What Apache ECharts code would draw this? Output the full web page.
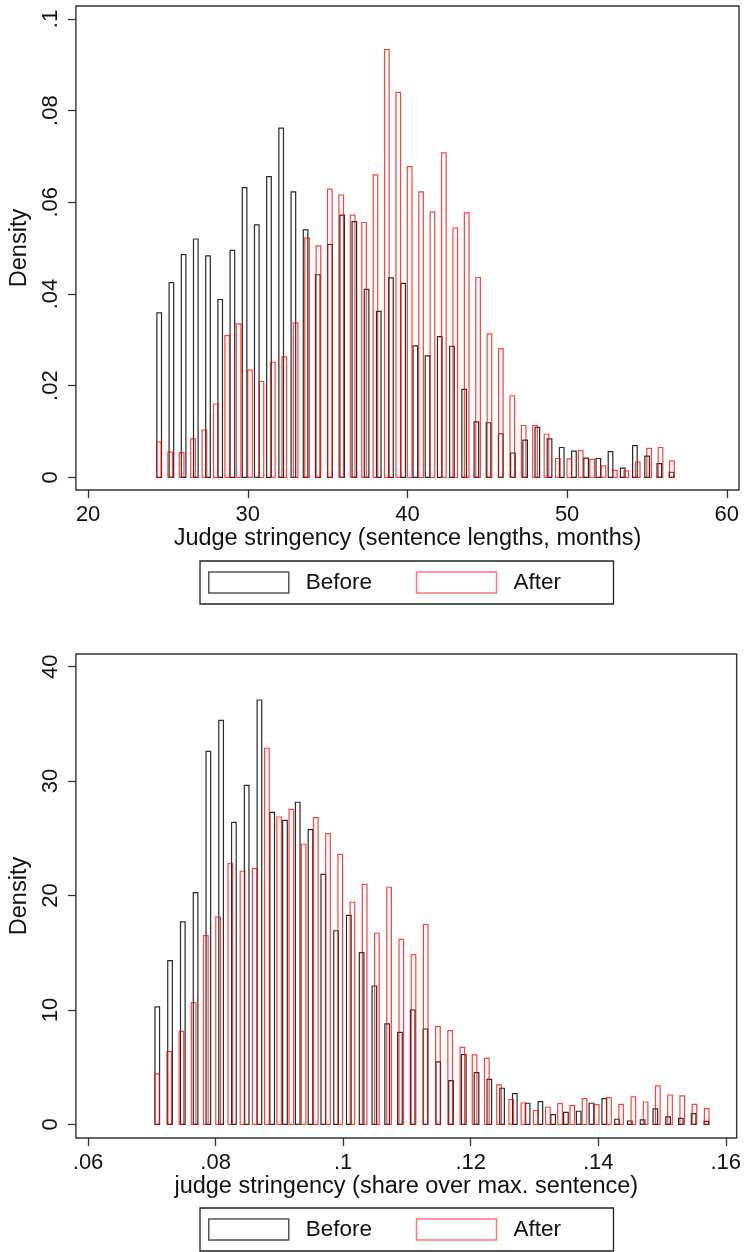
<!DOCTYPE html>
<html>
<head>
<meta charset="utf-8">
<script src="https://cdn.jsdelivr.net/npm/echarts@6/dist/echarts.min.js"></script>
<style>
  html, body { margin: 0; padding: 0; background: #fff; }
  #main { width: 744px; height: 1252px; }
</style>
</head>
<body>
<div id="main"></div>
<script>
// Density per bin, Before / After, sentence-length stringency (months)
const lengthBefore = [0.0359, 0.0425, 0.0486, 0.0520, 0.0483, 0.0388, 0.0495, 0.0632, 0.0551, 0.0656,
  0.0762, 0.0623, 0.0540, 0.0442, 0.0508, 0.0572, 0.0558, 0.0410, 0.0362, 0.0435,
  0.0423, 0.0287, 0.0265, 0.0307, 0.0286, 0.0192, 0.0121, 0.0119, 0.0095, 0.0053,
  0.0081, 0.0109, 0.0084, 0.0065, 0.0057, 0.0042, 0.0041, 0.0056, 0.0020, 0.0069,
  0.0046, 0.0030, 0.0011];
const lengthAfter = [0.0077, 0.0055, 0.0054, 0.0084, 0.0103, 0.0160, 0.0309, 0.0335, 0.0234, 0.0209,
  0.0251, 0.0263, 0.0337, 0.0522, 0.0505, 0.0629, 0.0616, 0.0572, 0.0556, 0.0660,
  0.0933, 0.0840, 0.0678, 0.0623, 0.0579, 0.0708, 0.0544, 0.0577, 0.0436, 0.0313,
  0.0281, 0.0178, 0.0113, 0.0113, 0.0094, 0.0041, 0.0040, 0.0058, 0.0039, 0.0025,
  0.0015, 0.0014, 0.0033, 0.0063, 0.0065, 0.0036];
const lengthRange = [24.07, 56.92];   // histogram start / end (months)

// Density per bin, Before / After, share over maximum sentence
const shareBefore = [10.26, 14.31, 17.69, 20.25, 32.60, 35.31, 26.40, 29.63, 37.09, 27.27,
  26.57, 28.15, 25.76, 21.85, 16.92, 18.27, 15.01, 12.09, 8.77, 8.04,
  9.99, 8.33, 5.45, 3.82, 6.09, 4.52, 3.93, 3.15, 2.68, 1.84,
  1.98, 0.85, 1.05, 1.14, 1.84, 2.24, 0.44, 0.29, 0.38, 1.34,
  0.64, 0.52, 0.93, 0.26];
const shareAfter = [4.40, 6.35, 8.13, 10.64, 16.49, 18.12, 22.79, 22.12, 22.35, 32.87,
  26.86, 27.53, 24.48, 26.81, 25.41, 23.60, 19.41, 20.98, 16.70, 20.72,
  16.17, 14.83, 17.45, 8.54, 8.19, 6.73, 6.06, 5.77, 3.44, 2.16,
  1.86, 1.19, 1.49, 1.81, 1.63, 2.24, 1.72, 2.33, 1.75, 2.39,
  1.95, 3.35, 2.56, 2.48, 1.75, 1.37];
const shareRange = [0.06985, 0.15796];

// Tick labels
const lengthTicksX = [20, 30, 40, 50, 60];
const lengthTicksY = [0, 0.02, 0.04, 0.06, 0.08, 0.1];
const shareTicksX = [0.06, 0.08, 0.1, 0.12, 0.14, 0.16];
const shareTicksY = [0, 10, 20, 30, 40];

const seriesNames = ['Before', 'After'];
const titles = {
  lengthX: 'Judge stringency (sentence lengths, months)',
  shareX: 'judge stringency (share over max. sentence)',
  y: 'Density'
};

// Equal-width bins over [start, end]; each bar sits at its bin centre
function binned(values, range) {
  const w = (range[1] - range[0]) / values.length;
  return values.map((v, i) => [range[0] + (i + 0.5) * w, v]);
}
const stataNum = v => String(v).replace(/^0\./, '.');

const FONT = 'Liberation Sans, Arial, sans-serif';
const INK = '#333';
const BEFORE_LINE = '#2a2a2a';
const AFTER_LINE = 'rgba(255,0,0,0.75)';
const BAR_PX = 4.6;   // drawn bar width in pixels

function xAxisFor(gridIndex, min, max, ticks, name) {
  return {
    type: 'value', gridIndex, min, max, name,
    nameLocation: 'middle', nameGap: 37,
    nameTextStyle: { fontFamily: FONT, fontSize: 23.5, color: '#111' },
    axisLine: { show: false, onZero: false },
    axisTick: { show: true, length: 8, customValues: ticks, lineStyle: { color: INK, width: 1.3 } },
    axisLabel: { customValues: ticks, formatter: stataNum, margin: 14,
      fontFamily: FONT, fontSize: 22, color: '#111' },
    splitLine: { show: false }
  };
}
function yAxisFor(gridIndex, min, max, ticks) {
  return {
    type: 'value', gridIndex, min, max, name: titles.y,
    nameLocation: 'middle', nameGap: 39, nameRotate: 90,
    nameTextStyle: { fontFamily: FONT, fontSize: 23.5, color: '#111' },
    axisLine: { show: false, onZero: false },
    axisTick: { show: true, length: 8, customValues: ticks, lineStyle: { color: INK, width: 1.3 } },
    axisLabel: { customValues: ticks, formatter: stataNum, rotate: 90, margin: 14,
      fontFamily: FONT, fontSize: 22, color: '#111' },
    splitLine: { show: false }
  };
}
// Hollow histogram bars placed through the grid's own value axes
function barSeries(name, idx, data, color) {
  return {
    type: 'custom', name, xAxisIndex: idx, yAxisIndex: idx, data,
    encode: { x: 0, y: 1 },
    itemStyle: { color: color },
    renderItem: function (params, api) {
      const x = api.value(0), y = api.value(1);
      const base = api.coord([x, 0]);
      const top = api.coord([x, y]);
      return {
        type: 'rect',
        shape: { x: base[0] - BAR_PX / 2, y: top[1], width: BAR_PX, height: base[1] - top[1] },
        style: { fill: 'none', stroke: color, lineWidth: 1.2 }
      };
    },
    emphasis: { disabled: true }
  };
}
function legendAt(top) {
  return {
    left: 200, top, orient: 'horizontal', selectedMode: false,
    padding: [10, 5, 10, 8], itemGap: 15, itemWidth: 80, itemHeight: 21,
    borderColor: '#222', borderWidth: 1.3,
    textStyle: { fontFamily: FONT, fontSize: 22.5, color: '#111', width: 95, padding: [0, 0, 0, 12], lineHeight: 21 },
    data: [
      { name: seriesNames[0], icon: 'rect', itemStyle: { color: 'rgba(0,0,0,0)', borderColor: '#555', borderWidth: 1.5 } },
      { name: seriesNames[1], icon: 'rect', itemStyle: { color: 'rgba(0,0,0,0)', borderColor: 'rgba(255,0,0,0.55)', borderWidth: 1.5 } }
    ]
  };
}

const chart = echarts.init(document.getElementById('main'), null, { renderer: 'canvas' });
chart.setOption({
  backgroundColor: '#fff',
  animation: false,
  grid: [
    { left: 71, top: 6, width: 668, height: 484, show: true, borderColor: INK, borderWidth: 1.4, backgroundColor: 'rgba(0,0,0,0)' },
    { left: 71, top: 654, width: 668, height: 484, show: true, borderColor: INK, borderWidth: 1.4, backgroundColor: 'rgba(0,0,0,0)' }
  ],
  xAxis: [
    xAxisFor(0, 19.235, 60.765, lengthTicksX, titles.lengthX),
    xAxisFor(1, 0.058092, 0.161706, shareTicksX, titles.shareX)
  ],
  yAxis: [
    yAxisFor(0, -0.00277, 0.10284, lengthTicksY),
    yAxisFor(1, -1.198, 41.11, shareTicksY)
  ],
  legend: [legendAt(561), legendAt(1208)],
  series: [
    barSeries(seriesNames[0], 0, binned(lengthBefore, lengthRange), BEFORE_LINE),
    barSeries(seriesNames[1], 0, binned(lengthAfter, lengthRange), AFTER_LINE),
    barSeries(seriesNames[0], 1, binned(shareBefore, shareRange), BEFORE_LINE),
    barSeries(seriesNames[1], 1, binned(shareAfter, shareRange), AFTER_LINE)
  ]
});
</script>
</body>
</html>
